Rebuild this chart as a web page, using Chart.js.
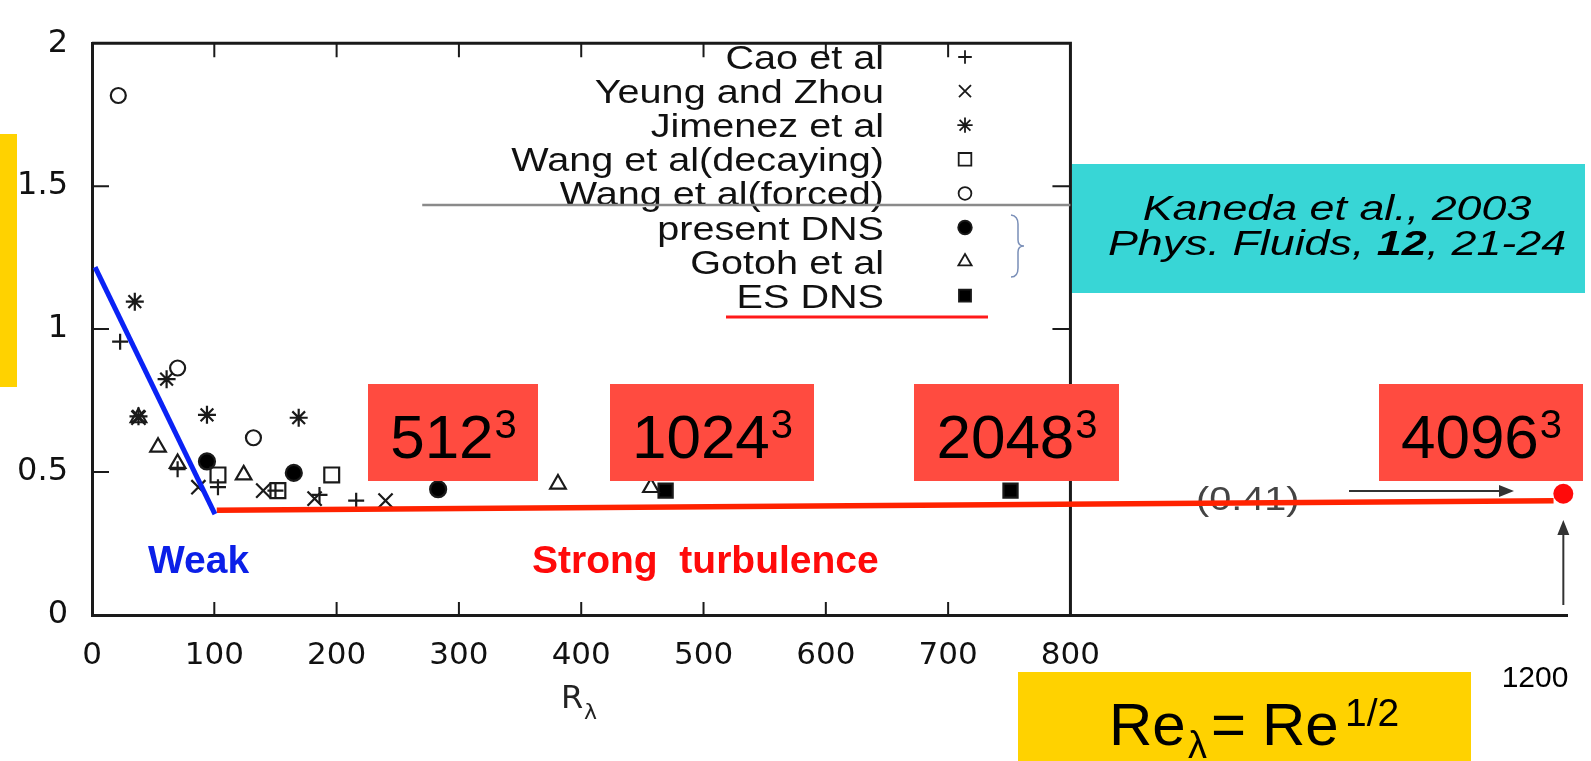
<!DOCTYPE html>
<html>
<head>
<meta charset="utf-8">
<script src="https://cdn.jsdelivr.net/npm/chart.js@4"></script>
<style>
  html, body { margin: 0; padding: 0; background: #fff; }
  #wrap { width: 1591px; height: 761px; }
</style>
</head>
<body>
<div id="wrap"><canvas id="chart" width="1591" height="761"></canvas></div>
<script>
// values: R_lambda on x, normalised value on y
const caoX = [23, 70, 103, 150, 186, 216]
const caoY = [0.956, 0.51, 0.447, 0.435, 0.42, 0.40]
const yeungX = [38, 87, 140, 182, 240]
const yeungY = [0.69, 0.447, 0.435, 0.407, 0.40]
const jimenezX = [35, 38, 61, 94, 169]
const jimenezY = [1.096, 0.695, 0.825, 0.70, 0.69]
const wangDecX = [103, 152, 196]
const wangDecY = [0.49, 0.435, 0.49]
const wangForX = [21.5, 70, 132]
const wangForY = [1.817, 0.864, 0.62]
const presentX = [94, 165, 283]
const presentY = [0.537, 0.497, 0.44]
const gotohX = [38, 54, 70, 124, 381, 457]
const gotohY = [0.69, 0.587, 0.53, 0.49, 0.458, 0.446]
const esX = [469, 751]
const esY = [0.435, 0.435]

// hand drawn trend lines and the 4096^3 point
const weakX = [2.5, 100.5]
const weakY = [1.217, 0.353]
const strongX = [102, 1195]
const strongY = [0.366, 0.40]
const dns4096X = [1203]
const dns4096Y = [0.424]

const legendLabels = ['Cao et al', 'Yeung and Zhou', 'Jimenez et al', 'Wang et al(decaying)',
  'Wang et al(forced)', 'present DNS', 'Gotoh et al', 'ES DNS']
const gridSizes = ['512', '1024', '2048', '4096']

const xTicks = [0, 100, 200, 300, 400, 500, 600, 700, 800]
const yTicks = [0, 0.5, 1, 1.5, 2]

const pts = (xs, ys) => xs.map((x, i) => ({ x: x, y: ys[i] }))

const ink = '#1a1a1a'
const markStyles = [
  { pointStyle: 'cross', pointRadius: 8, backgroundColor: 'rgba(0,0,0,0)' },
  { pointStyle: 'crossRot', pointRadius: 10, backgroundColor: 'rgba(0,0,0,0)' },
  { pointStyle: 'star', pointRadius: 9, backgroundColor: 'rgba(0,0,0,0)' },
  { pointStyle: 'rect', pointRadius: 10.5, backgroundColor: 'rgba(0,0,0,0)' },
  { pointStyle: 'circle', pointRadius: 7.5, backgroundColor: 'rgba(0,0,0,0)' },
  { pointStyle: 'circle', pointRadius: 8, backgroundColor: '#000' },
  { pointStyle: 'triangle', pointRadius: 9, backgroundColor: 'rgba(0,0,0,0)' },
  { pointStyle: 'rect', pointRadius: 10, backgroundColor: '#000' },
]
const seriesData = [
  pts(caoX, caoY), pts(yeungX, yeungY), pts(jimenezX, jimenezY), pts(wangDecX, wangDecY),
  pts(wangForX, wangForY), pts(presentX, presentY), pts(gotohX, gotohY), pts(esX, esY),
]

const markerSets = seriesData.map((d, i) => ({
  label: legendLabels[i],
  data: d,
  showLine: false,
  pointStyle: markStyles[i].pointStyle,
  pointRadius: markStyles[i].pointRadius,
  pointBackgroundColor: markStyles[i].backgroundColor,
  pointBorderColor: ink,
  pointBorderWidth: 2.2,
  clip: false,
  order: 2,
}))

const lineSets = [
  { label: 'weak', data: pts(weakX, weakY), showLine: true, borderColor: '#0a22f5', borderWidth: 5,
    pointRadius: 0, clip: false, order: 1 },
  { label: 'strong', data: pts(strongX, strongY), showLine: true, borderColor: '#ff2200', borderWidth: 5.5,
    pointRadius: 0, clip: false, order: 1 },
  { label: '4096', data: pts(dns4096X, dns4096Y), showLine: false, pointRadius: 10,
    pointBackgroundColor: '#ff0a0a', pointBorderWidth: 0, clip: false, order: 0 },
]

function txt(ctx, str, x, y, font, color, align, sx) {
  ctx.save()
  ctx.font = font
  ctx.fillStyle = color
  ctx.textAlign = align || 'left'
  ctx.textBaseline = 'alphabetic'
  ctx.translate(x, y)
  ctx.scale(sx || 1, 1)
  ctx.fillText(str, 0, 0)
  ctx.restore()
}

function textWidth(ctx, str, font, sx) {
  ctx.save()
  ctx.font = font
  const w = ctx.measureText(str).width * (sx || 1)
  ctx.restore()
  return w
}

function arrow(ctx, x1, y1, x2, y2) {
  const a = Math.atan2(y2 - y1, x2 - x1)
  ctx.save()
  ctx.strokeStyle = '#333'
  ctx.fillStyle = '#333'
  ctx.lineWidth = 2
  ctx.beginPath()
  ctx.moveTo(x1, y1)
  ctx.lineTo(x2 - 12 * Math.cos(a), y2 - 12 * Math.sin(a))
  ctx.stroke()
  ctx.beginPath()
  ctx.moveTo(x2, y2)
  ctx.lineTo(x2 - 15 * Math.cos(a) + 6 * Math.sin(a), y2 - 15 * Math.sin(a) - 6 * Math.cos(a))
  ctx.lineTo(x2 - 15 * Math.cos(a) - 6 * Math.sin(a), y2 - 15 * Math.sin(a) + 6 * Math.cos(a))
  ctx.closePath()
  ctx.fill()
  ctx.restore()
}

// frame, inward ticks, legend and things that sit under the data
const underlay = {
  id: 'underlay',
  beforeDatasetsDraw(chart) {
    const { ctx } = chart
    const xs = chart.scales.x
    const ys = chart.scales.y
    const x0 = xs.getPixelForValue(0)
    const x8 = xs.getPixelForValue(800)
    const y0 = ys.getPixelForValue(0)
    const y2 = ys.getPixelForValue(2)

    ctx.save()
    ctx.strokeStyle = ink
    ctx.lineWidth = 3
    ctx.beginPath()
    ctx.moveTo(x0, y2)
    ctx.lineTo(x8, y2)
    ctx.lineTo(x8, y0)
    ctx.stroke()
    ctx.lineWidth = 2
    ctx.beginPath()
    xTicks.forEach(v => {
      if (v === 0 || v === 800) return
      const p = xs.getPixelForValue(v)
      ctx.moveTo(p, y0)
      ctx.lineTo(p, y0 - 13)
      ctx.moveTo(p, y2)
      ctx.lineTo(p, y2 + 14)
    })
    yTicks.forEach(v => {
      if (v === 0 || v === 2) return
      const p = ys.getPixelForValue(v)
      ctx.moveTo(x0, p)
      ctx.lineTo(x0 + 17, p)
      ctx.moveTo(x8, p)
      ctx.lineTo(x8 - 18, p)
    })
    ctx.stroke()
    ctx.restore()

    // legend
    const lf = '33px "Liberation Sans"'
    legendLabels.forEach((lab, i) => {
      const cy = 57 + 34.1 * i
      txt(ctx, lab, 884, cy + 12, lf, '#111', 'right', 1.2)
      const st = markStyles[i]
      ctx.save()
      ctx.fillStyle = st.backgroundColor
      ctx.strokeStyle = ink
      ctx.lineWidth = 1.8
      Chart.helpers.drawPoint(ctx, { pointStyle: st.pointStyle, radius: st.pointRadius * 0.85,
        rotation: 0, borderWidth: 1.8 }, 965, cy)
      ctx.restore()
    })

    // grey rule through the legend
    ctx.save()
    ctx.strokeStyle = '#8a8a8a'
    ctx.lineWidth = 2.5
    ctx.beginPath()
    ctx.moveTo(xs.getPixelForValue(270), 205)
    ctx.lineTo(x8, 205)
    ctx.stroke()
    // red underline under ES DNS
    ctx.strokeStyle = '#ff1a1a'
    ctx.lineWidth = 3
    ctx.beginPath()
    ctx.moveTo(726, 317)
    ctx.lineTo(988, 317)
    ctx.stroke()
    // brace
    ctx.strokeStyle = '#7a8fb8'
    ctx.lineWidth = 1.5
    ctx.beginPath()
    ctx.moveTo(1011, 215)
    ctx.quadraticCurveTo(1018, 216, 1018, 224)
    ctx.lineTo(1018, 240)
    ctx.quadraticCurveTo(1018, 246, 1024, 246)
    ctx.quadraticCurveTo(1018, 246, 1018, 252)
    ctx.lineTo(1018, 268)
    ctx.quadraticCurveTo(1018, 277, 1011, 277)
    ctx.stroke()
    ctx.restore()

    // (0.41) and arrows
    txt(ctx, '(0.41)', 1196, 510, '33px "Liberation Sans"', '#444', 'left', 1.2)
    arrow(ctx, 1349, 491, 1514, 491)
    const xd = xs.getPixelForValue(dns4096X[0])
    arrow(ctx, xd, 605, xd, 520)

    // axis title
    txt(ctx, 'R', 561, 708, '32px "DejaVu Sans"', '#222')
    txt(ctx, 'λ', 584, 719, '22px "DejaVu Sans"', '#222')
    txt(ctx, '1200', 1535, 687, '30px "Liberation Sans"', '#000', 'center')
  },
}

// slide annotations drawn on top
const overlay = {
  id: 'overlay',
  afterDatasetsDraw(chart) {
    const { ctx } = chart
    const boxes = [[368, 538], [610, 814], [914, 1119], [1379, 1583]]
    boxes.forEach((b, i) => {
      ctx.fillStyle = '#ff4b40'
      ctx.fillRect(b[0], 384, b[1] - b[0], 97)
      const bf = '62px "Liberation Sans"'
      const ef = '40px "Liberation Sans"'
      const wb = textWidth(ctx, gridSizes[i], bf)
      const we = textWidth(ctx, '3', ef)
      const sx = (b[0] + b[1]) / 2 - (wb + we) / 2
      txt(ctx, gridSizes[i], sx, 458, bf, '#000')
      txt(ctx, '3', sx + wb + 1, 438, ef, '#000')
    })

    // citation box
    ctx.fillStyle = '#38d6d6'
    ctx.fillRect(1072, 164, 513, 129)
    const itf = 'italic 35px "Liberation Sans"'
    const ibf = 'italic bold 35px "Liberation Sans"'
    const hs = 1.28
    txt(ctx, 'Kaneda et al., 2003', 1337, 220, itf, '#000', 'center', hs)
    const p1 = 'Phys. Fluids, '
    const p2 = '12'
    const p3 = ', 21-24'
    const w1 = textWidth(ctx, p1, itf, hs)
    const w2 = textWidth(ctx, p2, ibf, hs)
    const w3 = textWidth(ctx, p3, itf, hs)
    let lx = 1337 - (w1 + w2 + w3) / 2
    txt(ctx, p1, lx, 255, itf, '#000', 'left', hs)
    txt(ctx, p2, lx + w1, 255, ibf, '#000', 'left', hs)
    txt(ctx, p3, lx + w1 + w2, 255, itf, '#000', 'left', hs)

    // yellow boxes
    ctx.fillStyle = '#ffd200'
    ctx.fillRect(0, 134, 17, 253)
    ctx.fillRect(1018, 672, 453, 89)
    const rf = '60px "Liberation Sans"'
    txt(ctx, 'Re', 1109, 745, rf, '#000')
    txt(ctx, 'λ', 1188, 758, '38px "Liberation Sans"', '#000')
    txt(ctx, '=', 1211, 745, rf, '#000')
    txt(ctx, 'Re', 1262, 745, rf, '#000')
    txt(ctx, '1/2', 1345, 726, '39px "Liberation Sans"', '#000')

    txt(ctx, 'Weak', 148, 573, 'bold 39px "Liberation Sans"', '#0b1fe8')
    txt(ctx, 'Strong  turbulence', 532, 573, 'bold 39px "Liberation Sans"', '#ff0a0a')
  },
}

const ctx = document.getElementById('chart').getContext('2d')
const chart = new Chart(ctx, {
  type: 'scatter',
  data: { datasets: markerSets.concat(lineSets) },
  options: {
    responsive: false,
    animation: false,
    devicePixelRatio: 1,
    layout: { padding: { top: 23, right: 24, left: 0, bottom: 0 } },
    plugins: { legend: { display: false }, tooltip: { enabled: false } },
    scales: {
      x: {
        type: 'linear',
        min: 0,
        max: 1206,
        grid: { display: false, drawTicks: false, tickLength: 0 },
        border: { display: true, color: ink, width: 3 },
        ticks: {
          padding: 22,
          color: '#111',
          font: { family: 'DejaVu Sans', size: 31 },
          maxRotation: 0,
          autoSkip: false,
          callback: (v) => String(v),
        },
        afterBuildTicks: (scale) => { scale.ticks = xTicks.map(v => ({ value: v })) },
        afterFit: (scale) => { scale.height = 146 },
      },
      y: {
        type: 'linear',
        min: 0,
        max: 2,
        grid: { display: false, drawTicks: false, tickLength: 0 },
        border: { display: true, color: ink, width: 3 },
        ticks: {
          padding: 24,
          color: '#111',
          font: { family: 'DejaVu Sans', size: 32 },
          autoSkip: false,
          callback: (v) => String(v),
        },
        afterBuildTicks: (scale) => { scale.ticks = yTicks.map(v => ({ value: v })) },
        afterFit: (scale) => { scale.width = 92 },
      },
    },
  },
  plugins: [underlay, overlay],
})
</script>
</body>
</html>
